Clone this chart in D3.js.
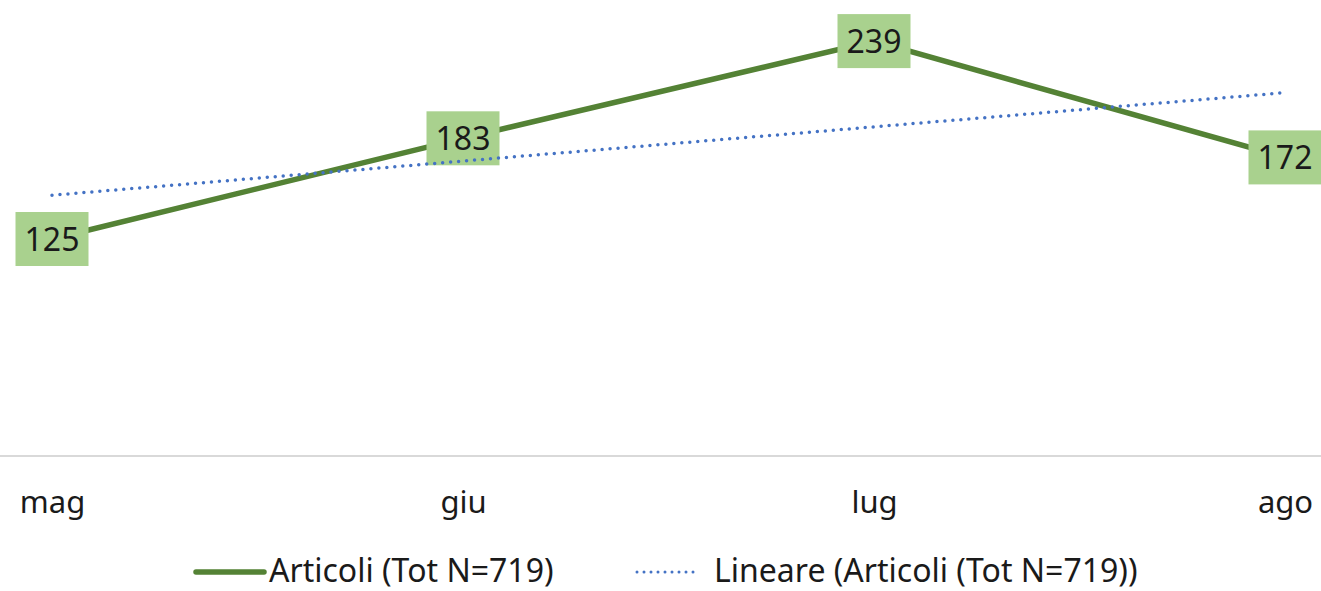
<!DOCTYPE html>
<html>
<head>
<meta charset="utf-8">
<script src="https://cdn.jsdelivr.net/npm/d3@7"></script>
<style>
    body { margin: 0; background: #fff; }
    svg { display: block; font-family: "Noto Sans", "Open Sans", sans-serif; }
</style>
</head>
<body>
<div id="chart"></div>
<script>
// Data
const months = ["mag", "giu", "lug", "ago"];
const articoli = [125, 183, 239, 172];
// Excel linear trendline, value at first and last month
const trendMonths = ["mag", "ago"];
const trendValues = [150.2, 209.3];
const seriesName = "Articoli (Tot N=719)";
const trendName = "Lineare (Articoli (Tot N=719))";

const width = 1321, height = 591;
const green = "#548235", boxFill = "#a9d18e", blue = "#4472c4";

const svg = d3.select("#chart").append("svg")
    .attr("width", width)
    .attr("height", height);

const x = d3.scalePoint()
    .domain(months)
    .range([52, 1285]);

const y = d3.scaleLinear()
    .domain([0, 250])
    .range([456, 22]);

// Category axis: line + labels
const axis = svg.append("g")
    .attr("transform", `translate(0,${y(0)})`)
    .call(d3.axisBottom(x).tickSize(0).tickPadding(35));
axis.select(".domain").remove();
axis.selectAll("text")
    .style("font-family", "'Noto Sans', sans-serif")
    .style("font-size", "31px")
    .attr("fill", "#1a1a1a");

svg.append("line")
    .attr("x1", 0)
    .attr("x2", width)
    .attr("y1", y(0))
    .attr("y2", y(0))
    .attr("stroke", "#d9d9d9")
    .attr("stroke-width", 2);

// Main series line
const line = d3.line()
    .x((d, i) => x(months[i]))
    .y(d => y(d));

svg.append("path")
    .datum(articoli)
    .attr("fill", "none")
    .attr("stroke", green)
    .attr("stroke-width", 5.5)
    .attr("d", line);

// Data labels in green boxes
const labels = svg.selectAll(".label")
    .data(articoli)
    .join("g")
    .attr("class", "label")
    .attr("transform", (d, i) => `translate(${x(months[i])},${y(d)})`);

labels.append("rect")
    .attr("x", -36.5)
    .attr("y", -27)
    .attr("width", 73)
    .attr("height", 54)
    .attr("fill", boxFill);

labels.append("text")
    .attr("text-anchor", "middle")
    .attr("dy", "0.36em")
    .style("font-size", "32px")
    .attr("fill", "#1a1a1a")
    .text(d => d);

// Linear trendline on top
const trendLine = d3.line()
    .x((d, i) => x(trendMonths[i]))
    .y(d => y(d));

svg.append("path")
    .datum(trendValues)
    .attr("fill", "none")
    .attr("stroke", blue)
    .attr("stroke-width", 3.5)
    .attr("stroke-linecap", "round")
    .attr("stroke-dasharray", "0,8")
    .attr("d", trendLine);

// Legend
const legend = svg.append("g")
    .attr("transform", "translate(0,572)");

legend.append("line")
    .attr("x1", 196)
    .attr("x2", 264)
    .attr("stroke", green)
    .attr("stroke-width", 5.5)
    .attr("stroke-linecap", "round");

legend.append("text")
    .attr("x", 269)
    .attr("y", 10)
    .style("font-size", "32px")
    .attr("fill", "#1a1a1a")
    .text(seriesName);

legend.append("line")
    .attr("x1", 637)
    .attr("x2", 700)
    .attr("stroke", blue)
    .attr("stroke-width", 3)
    .attr("stroke-linecap", "round")
    .attr("stroke-dasharray", "0,7");

legend.append("text")
    .attr("x", 714)
    .attr("y", 10)
    .style("font-size", "32px")
    .attr("fill", "#1a1a1a")
    .text(trendName);
</script>
</body>
</html>
